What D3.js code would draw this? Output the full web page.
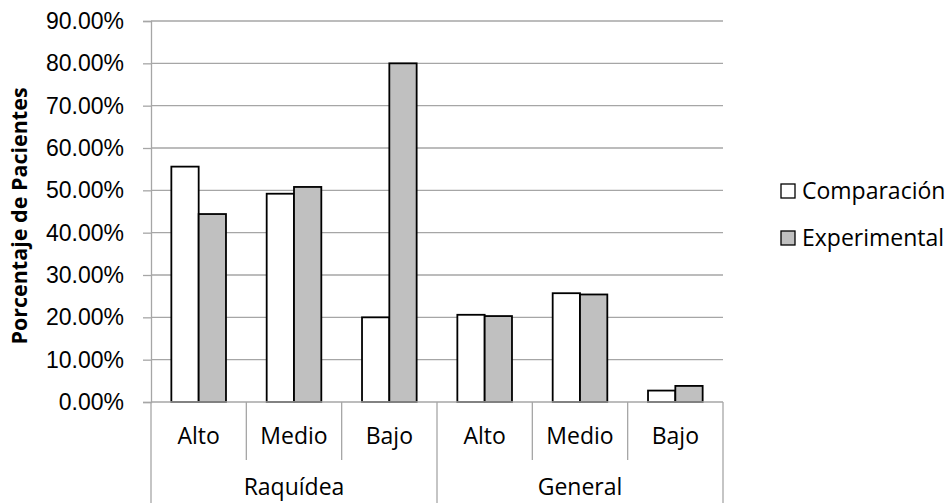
<!DOCTYPE html>
<html lang="es">
<head>
<meta charset="UTF-8">
<title>Porcentaje de Pacientes</title>
<script src="https://cdnjs.cloudflare.com/ajax/libs/d3/7.8.5/d3.min.js"></script>
<style>
  body { margin: 0; background: #fff; }
  svg { display: block; font-family: "Open Sans", sans-serif; }
  .grid line { stroke: #a6a6a6; stroke-width: 1.3px; }
  .axis path, .axis line { stroke: #a6a6a6; stroke-width: 1.3px; }
  text { fill: #000; }
</style>
</head>
<body>
<svg width="948" height="503"></svg>
<script>
    // data
    const groups = ["Raquídea", "General"];
    const levels = ["Alto", "Medio", "Bajo"];
    const seriesNames = ["Comparación", "Experimental"];
    const comparacion = [55.6, 49.2, 20.0, 20.6, 25.7, 2.7];
    const experimental = [44.4, 50.8, 80.0, 20.3, 25.4, 3.8];
    const yTicks = [0, 10, 20, 30, 40, 50, 60, 70, 80, 90];
    const colors = ["#ffffff", "#c0c0c0"];

    const svg = d3.select("svg");
    const margin = { left: 151, right: 225, top: 21, bottom: 101 };
    const width = 948 - margin.left - margin.right;
    const height = 503 - margin.top - margin.bottom;
    const fs = "23px";

    const categories = [];
    groups.forEach(g => levels.forEach(l => categories.push(g + "|" + l)));

    const x = d3.scaleBand().domain(categories).range([0, width]).paddingInner(0).paddingOuter(0);
    const x1 = d3.scaleBand().domain(seriesNames).range([0, x.bandwidth()]).paddingInner(0).paddingOuter(0.745);
    const y = d3.scaleLinear().domain([0, 90]).range([height, 0]);

    const g = svg.append("g").attr("transform", `translate(${margin.left},${margin.top})`);

    // gridlines
    g.append("g").attr("class", "grid")
        .selectAll("line").data(yTicks.filter(d => d > 0)).enter().append("line")
        .attr("x1", 0).attr("x2", width)
        .attr("y1", d => y(d)).attr("y2", d => y(d));

    // y axis
    const yAxis = g.append("g").attr("class", "axis")
        .call(d3.axisLeft(y).tickValues(yTicks).tickSize(8).tickPadding(19)
            .tickFormat(d => d.toFixed(2) + "%"));
    yAxis.selectAll("text").style("font-size", fs);

    // bars
    const rows = categories.map((c, i) => ({ cat: c, values: [comparacion[i], experimental[i]] }));
    const cg = g.selectAll(".cat").data(rows).enter().append("g")
        .attr("transform", d => `translate(${x(d.cat)},0)`);
    cg.selectAll("rect").data(d => d.values.map((v, j) => ({ name: seriesNames[j], v: v, j: j })))
        .enter().append("rect")
        .attr("x", d => x1(d.name))
        .attr("width", x1.bandwidth())
        .attr("y", d => y(d.v))
        .attr("height", d => height - y(d.v))
        .attr("fill", d => colors[d.j])
        .attr("stroke", "#000")
        .attr("stroke-width", 1.8);

    // category axis (two levels)
    const ax = g.append("g").attr("class", "axis");
    ax.append("line").attr("x1", 0).attr("x2", width).attr("y1", height).attr("y2", height);
    categories.forEach((c, i) => {
        const full = i % levels.length === 0;
        ax.append("line")
            .attr("x1", x(c)).attr("x2", x(c))
            .attr("y1", height).attr("y2", full ? 503 - margin.top : height + 58);
    });
    ax.append("line").attr("x1", width).attr("x2", width).attr("y1", height).attr("y2", 503 - margin.top);

    g.selectAll(".lvl").data(categories).enter().append("text")
        .attr("x", d => x(d) + x.bandwidth() / 2)
        .attr("y", height + 42)
        .attr("text-anchor", "middle")
        .style("font-size", fs)
        .text(d => d.split("|")[1]);

    g.selectAll(".grp").data(groups).enter().append("text")
        .attr("x", (d, i) => x(categories[i * levels.length]) + x.bandwidth() * levels.length / 2)
        .attr("y", height + 93)
        .attr("text-anchor", "middle")
        .style("font-size", fs)
        .text(d => d);

    // y title
    svg.append("text")
        .attr("transform", `translate(27,${margin.top + 195}) rotate(-90)`)
        .attr("text-anchor", "middle")
        .style("font-size", "21.5px")
        .style("font-weight", "bold")
        .text("Porcentaje de Pacientes");

    // legend
    const lg = svg.append("g").attr("transform", "translate(781,184)");
    seriesNames.forEach((s, i) => {
        const row = lg.append("g").attr("transform", `translate(0,${i * 47})`);
        row.append("rect").attr("width", 14).attr("height", 14)
            .attr("fill", colors[i]).attr("stroke", "#000").attr("stroke-width", 1.3);
        row.append("text").attr("x", 21).attr("y", 15)
            .style("font-size", fs).text(s);
    });
</script>
</body>
</html>
